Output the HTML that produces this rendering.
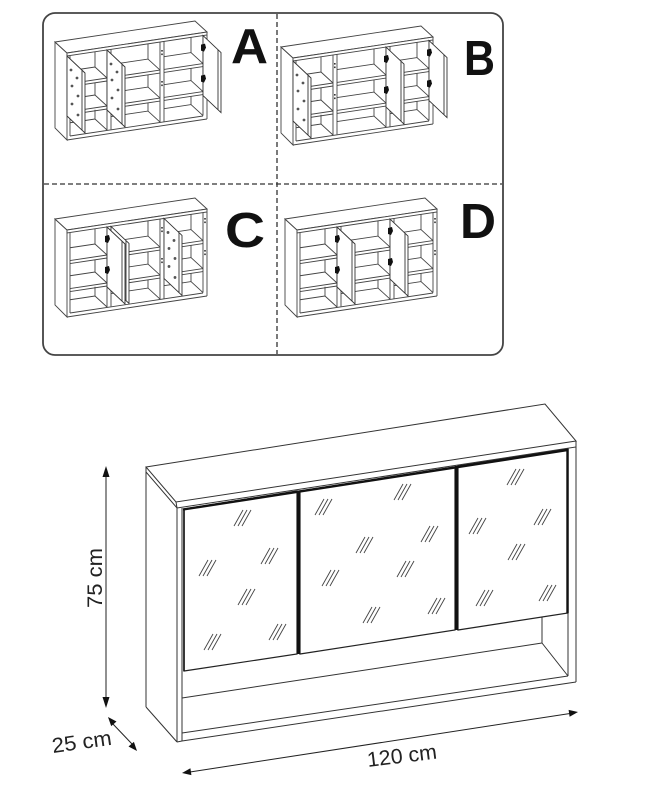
<!DOCTYPE html>
<html><head><meta charset="utf-8"><style>
html,body{margin:0;padding:0;background:#fff;}
svg{display:block;}
</style></head><body>
<svg width="672" height="800" viewBox="0 0 672 800" xmlns="http://www.w3.org/2000/svg" xmlns:xlink="http://www.w3.org/1999/xlink">
<defs>
  <g id="cab" fill="none" stroke="#444" stroke-width="0.9">
    <polygon points="-12,-11 0,0 0,87 -12,75" fill="#fff"/>
    <polygon points="-12,-11 128,-32 140,-21 0,0" fill="#fff"/>
    <polygon points="0,0 140,-21 140,-18 0,3" fill="#fff"/>
    <line x1="140" y1="-18" x2="140" y2="66"/>
    <line x1="136" y1="-17.4" x2="136" y2="62.6"/>
    <line x1="3" y1="3" x2="3" y2="83"/>
    <line x1="0" y1="87" x2="140" y2="66"/>
    <line x1="3" y1="83" x2="136" y2="63"/>
    <line x1="40" y1="-3" x2="40" y2="77"/>
    <line x1="44" y1="-3.6" x2="44" y2="76.4"/>
    <line x1="93" y1="-11" x2="93" y2="69"/>
    <line x1="97" y1="-11.6" x2="97" y2="68.5"/>
    <!-- back corners -->
    <line x1="28" y1="-1.2" x2="28" y2="14"/><line x1="28" y1="29.8" x2="28" y2="42"/><line x1="28" y1="56.8" x2="28" y2="66"/>
    <line x1="81" y1="-9.15" x2="81" y2="6.05"/><line x1="81" y1="21.85" x2="81" y2="34.05"/><line x1="81" y1="49.85" x2="81" y2="58.05"/>
    <line x1="124" y1="-15.6" x2="124" y2="-0.4"/><line x1="124" y1="15.4" x2="124" y2="27.6"/><line x1="124" y1="43.4" x2="124" y2="51.6"/>
    <!-- shelves y0=31 -->
    <line x1="3" y1="30.55" x2="40" y2="25"/><line x1="3" y1="33.55" x2="40" y2="28"/><polyline points="3,17.75 28,14 40,25"/>
    <line x1="44" y1="24.4" x2="93" y2="17.05"/><line x1="44" y1="27.4" x2="93" y2="20.05"/><polyline points="44,11.6 81,6.05 93,17.05"/>
    <line x1="97" y1="16.45" x2="136" y2="10.6"/><line x1="97" y1="19.45" x2="136" y2="13.6"/><polyline points="97,3.65 124,-0.4 136,10.6"/>
    <!-- shelves y0=59 -->
    <line x1="3" y1="58.55" x2="40" y2="53"/><line x1="3" y1="61.55" x2="40" y2="56"/><polyline points="3,45.75 28,42 40,53"/>
    <line x1="44" y1="52.4" x2="93" y2="45.05"/><line x1="44" y1="55.4" x2="93" y2="48.05"/><polyline points="44,39.6 81,34.05 93,45.05"/>
    <line x1="97" y1="44.45" x2="136" y2="38.6"/><line x1="97" y1="47.45" x2="136" y2="41.6"/><polyline points="97,31.65 124,27.6 136,38.6"/>
    <!-- floor backs -->
    <polyline points="3,69.75 28,66 40,77"/>
    <polyline points="44,63.6 81,58.05 93,69.05"/>
    <polyline points="97,55.65 124,51.6 136,62.6"/>
    <!-- pin marks -->
    <g fill="#333" stroke="none">
      <rect x="41" y="5" width="1.6" height="1.6"/><rect x="41" y="8.5" width="1.6" height="1.6"/>
      <rect x="41" y="36" width="1.6" height="1.6"/><rect x="41" y="39.5" width="1.6" height="1.6"/>
      <rect x="94.2" y="-3" width="1.6" height="1.6"/><rect x="94.2" y="0.5" width="1.6" height="1.6"/>
      <rect x="94.2" y="28" width="1.6" height="1.6"/><rect x="94.2" y="31.5" width="1.6" height="1.6"/>
      <rect x="137.2" y="-12" width="1.6" height="1.6"/><rect x="137.2" y="-8.5" width="1.6" height="1.6"/>
      <rect x="137.2" y="20" width="1.6" height="1.6"/><rect x="137.2" y="23.5" width="1.6" height="1.6"/>
    </g>
  </g>
  <g id="door" fill="#fff" stroke="#333" stroke-width="0.9">
    <polygon points="0,3 18,20 18,80 0,63"/>
    <line x1="15" y1="17.2" x2="15" y2="77.2"/>
  </g>
  <g id="dd">
    <use xlink:href="#door" href="#door"/>
    <g fill="#555" stroke="none">
      <circle cx="4" cy="17" r="1.4"/><circle cx="10" cy="25" r="1.4"/>
      <circle cx="5" cy="33" r="1.4"/><circle cx="11" cy="43" r="1.4"/>
      <circle cx="5" cy="51" r="1.4"/><circle cx="11" cy="62" r="1.4"/>
    </g>
  </g>
  <g id="hd">
    <use xlink:href="#door" href="#door"/>
    <g fill="#111" stroke="none">
      <polygon points="-2,12 2,11 3,15 1,19 -2,18"/>
      <polygon points="-2,43 2,42 3,46 1,50 -2,49"/>
    </g>
  </g>
  <g id="ht" stroke="#444" stroke-width="0.9" fill="none">
    <line x1="-9" y1="8" x2="0" y2="-8"/>
    <line x1="-5" y1="8" x2="4" y2="-8"/>
    <line x1="-1" y1="8" x2="8" y2="-8"/>
  </g>
</defs>

<!-- options box -->
<rect x="43" y="13" width="460" height="342" rx="12" ry="12" fill="none" stroke="#444" stroke-width="1.8"/>
<line x1="277" y1="14" x2="277" y2="354" stroke="#333" stroke-width="1.3" stroke-dasharray="5,3"/>
<line x1="44" y1="184" x2="502" y2="184" stroke="#333" stroke-width="1.3" stroke-dasharray="5,3"/>

<!-- Panel A -->
<g transform="translate(67,53)">
  <use xlink:href="#cab" href="#cab"/>
  <use xlink:href="#dd" href="#dd" transform="translate(0,0)"/>
  <use xlink:href="#dd" href="#dd" transform="translate(40,-6)"/>
  <use xlink:href="#hd" href="#hd" transform="translate(136,-20.4)"/>
</g>
<!-- Panel B -->
<g transform="translate(293,58)">
  <use xlink:href="#cab" href="#cab"/>
  <use xlink:href="#dd" href="#dd" transform="translate(0,0)"/>
  <use xlink:href="#hd" href="#hd" transform="translate(93,-13.95)"/>
  <use xlink:href="#hd" href="#hd" transform="translate(136,-20.4)"/>
</g>
<!-- Panel C -->
<g transform="translate(67,230)">
  <use xlink:href="#cab" href="#cab"/>
  <use xlink:href="#dd" href="#dd" transform="translate(44,-6.6)"/>
  <use xlink:href="#hd" href="#hd" transform="translate(40,-6)"/>
  <use xlink:href="#dd" href="#dd" transform="translate(97,-14.55)"/>
</g>
<!-- Panel D -->
<g transform="translate(297,230)">
  <use xlink:href="#cab" href="#cab"/>
  <use xlink:href="#hd" href="#hd" transform="translate(40,-6)"/>
  <use xlink:href="#hd" href="#hd" transform="translate(93,-13.95)"/>
</g>

<g font-family="'Liberation Sans', sans-serif" font-weight="bold" font-size="49" fill="#111">
  <text x="231" y="63" textLength="37" lengthAdjust="spacingAndGlyphs">A</text>
  <text x="464" y="75" textLength="31" lengthAdjust="spacingAndGlyphs">B</text>
  <text x="225" y="247" textLength="40" lengthAdjust="spacingAndGlyphs">C</text>
  <text x="460" y="238" textLength="36" lengthAdjust="spacingAndGlyphs">D</text>
</g>

<!-- Big cabinet -->
<g fill="none" stroke="#333" stroke-width="1">
  <polygon points="146,467 545,404 576,441 176,502" fill="#fff"/>
  <polyline points="146,467 146,472 177,508 576,447 576,441"/>
  <line x1="176" y1="502" x2="177" y2="508"/>
  <line x1="146" y1="472" x2="146" y2="707"/>
  <line x1="146" y1="707" x2="177" y2="742"/>
  <line x1="177" y1="508" x2="177" y2="742"/>
  <line x1="182" y1="508" x2="182" y2="741"/>
  <line x1="576" y1="447" x2="576" y2="682"/>
  <line x1="568" y1="449" x2="568" y2="676"/>
  <polyline points="177,742 182,741 576,682"/>
  <line x1="182" y1="733" x2="568" y2="676"/>
  <line x1="182" y1="698" x2="542" y2="643"/>
  <line x1="542" y1="643" x2="568" y2="676"/>
  <line x1="542" y1="616" x2="542" y2="643"/>
</g>
<g fill="#fff" stroke="#222" stroke-width="1.2">
  <polygon points="184,509 297,491 297,654 184,671"/>
  <polygon points="300,491 455,467 455,630 300,654"/>
  <polygon points="458,466 568,449 568,613 458,630"/>
</g>
<g stroke="#111" fill="none">
  <line x1="183" y1="509.5" x2="568" y2="450" stroke-width="2.4"/>
  <line x1="298.5" y1="491" x2="298.5" y2="654" stroke-width="3"/>
  <line x1="456.5" y1="466" x2="456.5" y2="630" stroke-width="3"/>
  <line x1="567.5" y1="449" x2="567.5" y2="613" stroke-width="2.4"/>
  <line x1="184" y1="509" x2="184" y2="671" stroke-width="1.6"/>
</g>
<!-- hatches -->
<g>
  <use xlink:href="#ht" href="#ht" x="243" y="518"/>
  <use xlink:href="#ht" href="#ht" x="208" y="568"/>
  <use xlink:href="#ht" href="#ht" x="270" y="556"/>
  <use xlink:href="#ht" href="#ht" x="247" y="597"/>
  <use xlink:href="#ht" href="#ht" x="213" y="642"/>
  <use xlink:href="#ht" href="#ht" x="278" y="632"/>

  <use xlink:href="#ht" href="#ht" x="324" y="507"/>
  <use xlink:href="#ht" href="#ht" x="403" y="492"/>
  <use xlink:href="#ht" href="#ht" x="365" y="545"/>
  <use xlink:href="#ht" href="#ht" x="430" y="534"/>
  <use xlink:href="#ht" href="#ht" x="331" y="578"/>
  <use xlink:href="#ht" href="#ht" x="406" y="569"/>
  <use xlink:href="#ht" href="#ht" x="372" y="615"/>
  <use xlink:href="#ht" href="#ht" x="437" y="606"/>

  <use xlink:href="#ht" href="#ht" x="516" y="477"/>
  <use xlink:href="#ht" href="#ht" x="543" y="517"/>
  <use xlink:href="#ht" href="#ht" x="478" y="526"/>
  <use xlink:href="#ht" href="#ht" x="517" y="552"/>
  <use xlink:href="#ht" href="#ht" x="485" y="598"/>
  <use xlink:href="#ht" href="#ht" x="548" y="593"/>
</g>

<!-- dimension lines -->
<g stroke="#222" stroke-width="1" fill="none">
  <line x1="106" y1="475" x2="106" y2="699"/>
  <line x1="112" y1="723" x2="133" y2="745"/>
  <line x1="190" y1="772" x2="570" y2="713.5"/>
</g>
<g fill="#111" stroke="none">
  <polygon points="106,466 102.5,477 109.5,477"/>
  <polygon points="106,708 102.5,697 109.5,697"/>
  <polygon points="108,717 111.2,726.1 116.5,721.5"/>
  <polygon points="137,751 128.5,746.5 133.9,741.9"/>
  <polygon points="578,712 569.6,716.8 568.6,709.9"/>
  <polygon points="182,773 191.4,775.1 190.4,768.2"/>
</g>
<g font-family="'Liberation Sans', sans-serif" font-size="21" fill="#222">
  <text transform="translate(102,608) rotate(-90)" textLength="60" lengthAdjust="spacingAndGlyphs">75 cm</text>
  <text transform="translate(53,753) rotate(-8)" textLength="60" lengthAdjust="spacingAndGlyphs">25 cm</text>
  <text transform="translate(368,767) rotate(-7)" textLength="70" lengthAdjust="spacingAndGlyphs">120 cm</text>
</g>
</svg>
</body></html>
